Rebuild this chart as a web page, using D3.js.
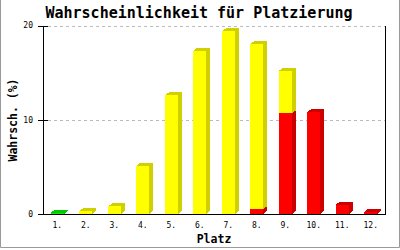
<!DOCTYPE html>
<html><head><meta charset="utf-8">
<script src="https://cdn.jsdelivr.net/npm/d3@7"></script>
<style>body{margin:0;background:#fff}svg{display:block}</style>
</head><body>
<script>
const categories = ["1.","2.","3.","4.","5.","6.","7.","8.","9.","10.","11.","12."];
const red    = [0,   0,   0,   0,   0,    0,    0,    0.5,  10.7, 10.8, 1.0, 0.2];
const yellow = [0,   0.3, 0.8, 5.1, 12.6, 17.3, 19.4, 17.5, 4.5,  0,    0,   0];
const green  = [0.15,0,   0,   0,   0,    0,    0,    0,    0,    0,    0,   0];
const seriesNames = ["red","yellow","green"];
const frontColors = {red:"#ff0000", yellow:"#ffff00", green:"#00ee00"};
const darkColors  = {red:"#cc0000", yellow:"#d0d000", green:"#00c800"};
const yTicks = [0,10,20];
const title = "Wahrscheinlichkeit für Platzierung";
const yTitle = "Wahrsch. (%)";
const xTitle = "Platz";

const W=400,H=250;
const svg=d3.select("body").append("svg").attr("width",W).attr("height",H);
const L=43,R=385,T=25.5,B=214;
const x=d3.scaleBand().domain(categories).range([L,R]);
const y=d3.scaleLinear().domain([0,20]).range([B,T]);
const mono="'DejaVu Sans Mono', 'Liberation Mono', monospace";

// frame
svg.append("path").attr("d",`M0.5,0 V247.5 H399.5 V0`).attr("fill","none").attr("stroke","#999").attr("stroke-width",1);

// title
svg.append("text").attr("x",199).attr("y",18).attr("text-anchor","middle")
  .attr("font-family",mono).attr("font-weight","bold").attr("font-size",15).text(title);

// grid
svg.append("g").selectAll("line").data(yTicks.filter(d=>d>0)).join("line")
  .attr("x1",L+5).attr("x2",R).attr("y1",d=>Math.round(y(d))+0.5).attr("y2",d=>Math.round(y(d))+0.5)
  .attr("stroke","#bbb").attr("stroke-dasharray","3,3");

// bars
const data = categories.map((c,i)=>({cat:c, red:red[i], yellow:yellow[i], green:green[i]}));
const stacked = d3.stack().keys(seriesNames)(data);
const bw=13, dx=4, dy=3;
const gBars=svg.append("g").attr("shape-rendering","crispEdges");
categories.forEach((c,i)=>{
  const cx=x(c)+x.bandwidth()/2;
  const x0=Math.round(cx-bw/2), x1=x0+bw;
  let topKey=null, topVal=0;
  stacked.forEach(s=>{
    const seg=s[i]; if(seg[1]-seg[0]<=0) return;
    const yt=y(seg[1]), yb=y(seg[0]);
    gBars.append("path").attr("d",`M${x1},${yb} L${x1+dx},${yb-dy} L${x1+dx},${yt-dy} L${x1},${yt} Z`)
      .attr("fill",darkColors[s.key]);
    gBars.append("rect").attr("x",x0).attr("y",yt).attr("width",bw).attr("height",yb-yt)
      .attr("fill",frontColors[s.key]);
    topKey=s.key; topVal=seg[1];
  });
  if(topKey){
    const yt=y(topVal);
    gBars.append("path").attr("d",`M${x0},${yt} L${x0+dx},${yt-dy} L${x1+dx},${yt-dy} L${x1},${yt} Z`)
      .attr("fill",darkColors[topKey]);
  }
});

// axes
const ax=svg.append("g").attr("stroke","#000").attr("shape-rendering","crispEdges");
ax.append("line").attr("x1",L+0.5).attr("x2",L+0.5).attr("y1",T).attr("y2",B+0.5);
ax.append("line").attr("x1",R+0.5).attr("x2",R+0.5).attr("y1",T).attr("y2",B+0.5);
ax.append("line").attr("x1",L-5).attr("x2",R+1).attr("y1",B+0.5).attr("y2",B+0.5);
ax.selectAll(".tk").data(yTicks).join("line").attr("class","tk")
  .attr("x1",L-5).attr("x2",L+5).attr("y1",d=>Math.round(y(d))+0.5).attr("y2",d=>Math.round(y(d))+0.5);

svg.append("g").selectAll("text").data(yTicks).join("text")
  .attr("x",33).attr("y",d=>y(d)).attr("dy","0.35em").attr("text-anchor","end")
  .attr("font-family",mono).attr("font-size",8).text(d=>d);

svg.append("g").selectAll("text").data(categories).join("text")
  .attr("x",d=>x(d)+x.bandwidth()/2).attr("y",228).attr("text-anchor","middle")
  .attr("font-family",mono).attr("font-size",8).text(d=>d);

svg.append("text").attr("x",(L+R)/2).attr("y",243).attr("text-anchor","middle")
  .attr("font-family",mono).attr("font-weight","bold").attr("font-size",11.5).text(xTitle);

svg.append("text").attr("transform",`translate(17,120) rotate(-90)`).attr("text-anchor","middle")
  .attr("font-family",mono).attr("font-weight","bold").attr("font-size",11.5).text(yTitle);
</script>
</body></html>
